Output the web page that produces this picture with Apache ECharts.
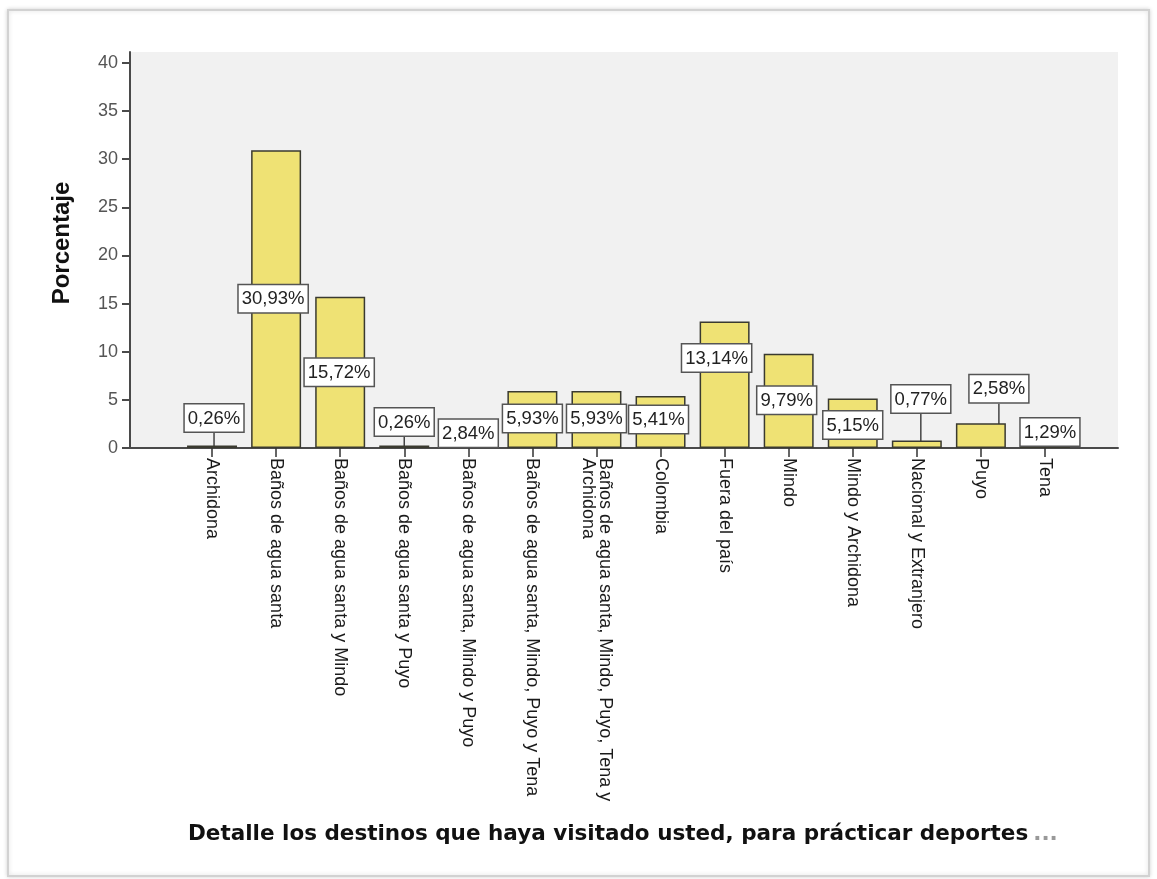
<!DOCTYPE html>
<html>
<head>
<meta charset="utf-8">
<script src="https://cdn.jsdelivr.net/npm/echarts@6/dist/echarts.min.js"></script>
<style>
html,body{margin:0;padding:0;background:#fff;}
#chart{width:1157px;height:879px;}
</style>
</head>
<body>
<div id="chart"></div>
<script>
const categories = [
  'Archidona',
  'Baños de agua santa',
  'Baños de agua santa y Mindo',
  'Baños de agua santa y Puyo',
  'Baños de agua santa, Mindo y Puyo',
  'Baños de agua santa, Mindo, Puyo y Tena',
  'Baños de agua santa, Mindo, Puyo, Tena y Archidona',
  'Colombia',
  'Fuera del país',
  'Mindo',
  'Mindo y Archidona',
  'Nacional y Extranjero',
  'Puyo',
  'Tena'
];
const percentages = [0.26, 30.93, 15.72, 0.26, 2.84, 5.93, 5.93, 5.41, 13.14, 9.79, 5.15, 0.77, 2.58, 1.29];
const yTickValues = [0, 5, 10, 15, 20, 25, 30, 35, 40];
const yAxisTitle = 'Porcentaje';
const xAxisTitle = 'Detalle los destinos que haya visitado usted, para prácticar deportes';

// label placement (pixel shifts from bar top), styling only
const labelShift = [[2,-14],[-3,162],[-1,89],[0,-10],[0,26],[0,41],[0,41],[-2,37],[-8,50],[-2,60],[0,40],[4,-28],[18,-21],[5,10]];
const leaderLine = [true,false,false,true,false,false,false,false,false,false,false,true,true,false];

const chart = echarts.init(document.getElementById('chart'));
const fmt = v => v.toFixed(2).replace('.', ',') + '%';

const option = {
  backgroundColor: '#ffffff',
  animation: false,
  graphic: [{
    type: 'rect', z: -10,
    shape: {x: 8, y: 10, width: 1141, height: 866},
    style: {fill: '#ffffff', stroke: '#d2d2d2', lineWidth: 2, shadowBlur: 4, shadowColor: 'rgba(0,0,0,0.15)'}
  }],
  title: {
    text: '{b|' + xAxisTitle + '} {g|...}',
    left: 183, top: 818,
    textStyle: {
      rich: {
        b: {fontFamily: 'DejaVu Sans', fontWeight: 'bold', fontSize: 21.5, color: '#111'},
        g: {fontFamily: 'DejaVu Sans', fontSize: 21.5, color: '#999'}
      }
    }
  },
  grid: [
    {left: 130, right: 39, top: 52, bottom: 431, show: true, backgroundColor: '#f1f1f1', borderWidth: 0},
    {left: 180, right: 80, top: 52, bottom: 431}
  ],
  xAxis: [
    {gridIndex: 0, type: 'value', min: 0, max: 1, axisLine: {show: true, lineStyle: {color: '#4a4a4a', width: 2}},
     axisTick: {show: false}, axisLabel: {show: false}, splitLine: {show: false}},
    {gridIndex: 1, type: 'category', data: categories,
     axisLine: {show: false},
     axisTick: {show: true, alignWithLabel: true, length: 9, lineStyle: {color: '#333', width: 1.5}},
     axisLabel: {rotate: -90, interval: 0, margin: 10, fontFamily: 'Liberation Sans', fontSize: 18, color: '#1a1a1a',
                 width: 365, overflow: 'break', lineHeight: 17}
    }
  ],
  yAxis: [
    {gridIndex: 0, type: 'value', min: 0, max: 41.14,
     name: yAxisTitle, nameLocation: 'middle', nameGap: 56, nameRotate: 90,
     nameTextStyle: {fontFamily: 'Liberation Sans', fontWeight: 'bold', fontSize: 24, color: '#111', padding: [0, 0, 0, 14]},
     axisLine: {show: true, lineStyle: {color: '#4a4a4a', width: 2}},
     axisTick: {show: true, length: 8, customValues: yTickValues, lineStyle: {color: '#4a4a4a', width: 2}},
     axisLabel: {customValues: yTickValues, margin: 12, fontFamily: 'Liberation Sans', fontSize: 18, color: '#555'},
     splitLine: {show: false}},
    {gridIndex: 1, type: 'value', min: 0, max: 41.14, show: false, splitLine: {show: false}}
  ],
  series: [{
    type: 'bar',
    xAxisIndex: 1, yAxisIndex: 1,
    barCategoryGap: '22%',
    data: percentages.map((v, i) => ({value: v, labelLine: {show: leaderLine[i]}})),
    itemStyle: {color: '#efe274', borderColor: '#3a3a30', borderWidth: 1.5},
    label: {
      show: true, position: 'top', distance: 0,
      formatter: p => fmt(p.value),
      fontFamily: 'Liberation Sans', fontSize: 18.5, color: '#222', lineHeight: 20,
      backgroundColor: '#ffffff', borderColor: '#555', borderWidth: 1.5, padding: [4, 3, 3, 3]
    },
    labelLine: {show: false, lineStyle: {color: '#444', width: 1.5}},
    labelLayout: p => ({dx: labelShift[p.dataIndex][0], dy: labelShift[p.dataIndex][1]})
  }]
};
chart.setOption(option);
</script>
</body>
</html>
